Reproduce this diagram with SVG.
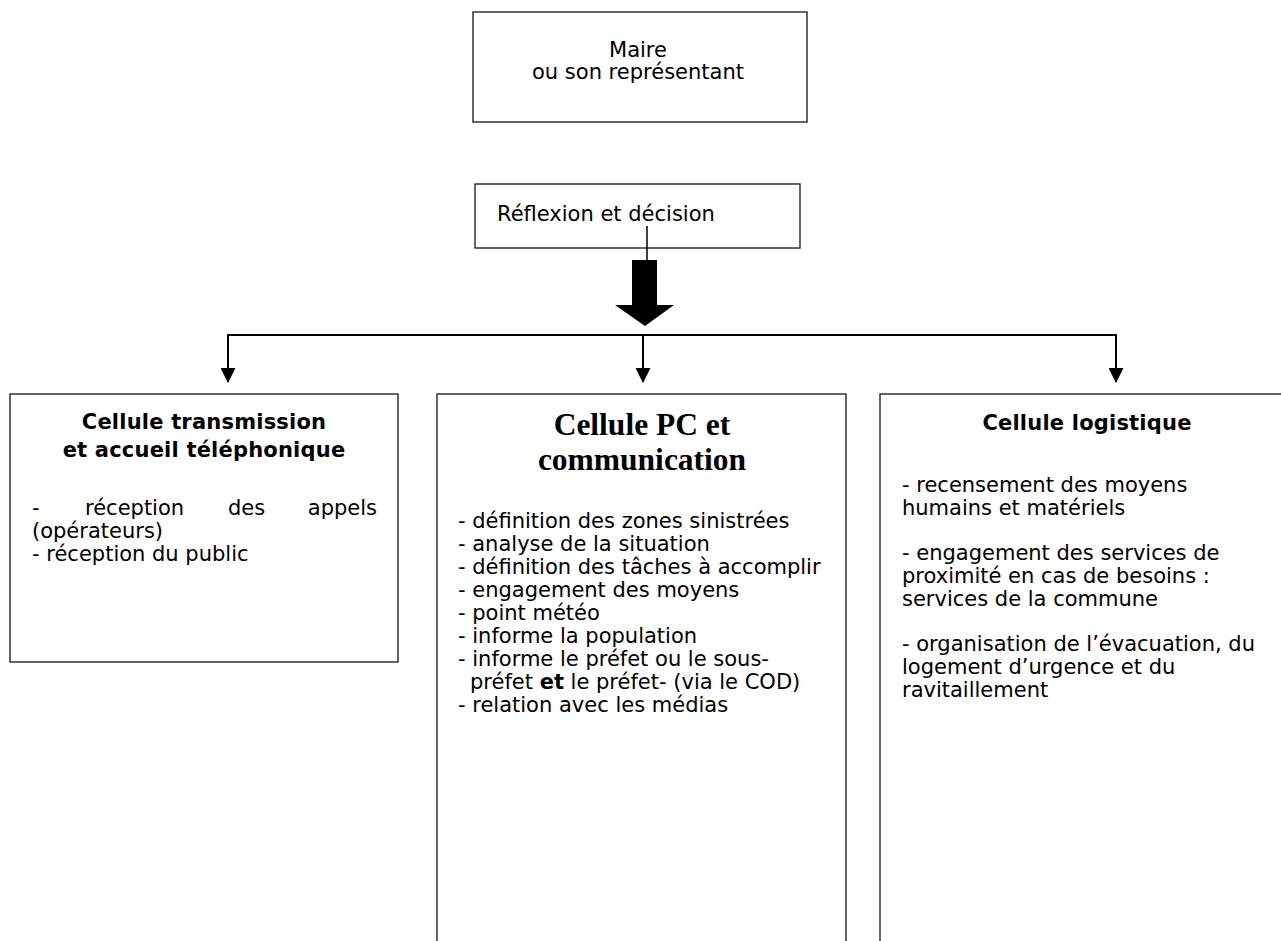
<svg xmlns="http://www.w3.org/2000/svg" width="1281" height="941" viewBox="0 0 1281 941">
<defs>
<style>
.box{fill:#fff;stroke:#333;stroke-width:1.5}
.t{font-family:"DejaVu Sans","Liberation Sans",sans-serif;font-size:21px;fill:#000}
.b{font-weight:bold;font-size:21px;letter-spacing:0.2px}
.serif{font-family:"Liberation Serif","DejaVu Serif",serif;font-size:31.5px;font-weight:bold;fill:#000}
.c{text-anchor:middle}
.ln{fill:none;stroke:#000;stroke-width:2}
</style>
<marker id="ah" viewBox="0 0 15 15" refX="14" refY="7.5" markerWidth="15" markerHeight="15" markerUnits="userSpaceOnUse" orient="auto">
<path d="M0,0 L15,7.5 L0,15 Z" fill="#000"/>
</marker>
</defs>
<rect width="1281" height="941" fill="#fff"/>
<g id="maire">
<rect class="box" x="473" y="12" width="334" height="110"/>
<text class="t c" x="638" y="57">Maire</text>
<text class="t c" x="638" y="79">ou son représentant</text>
</g>
<g id="reflexion">
<rect class="box" x="475" y="184" width="325" height="64"/>
<text class="t" x="497" y="221">Réflexion et décision</text>
</g>
<g id="connectors">
<line class="ln" x1="647" y1="226" x2="647" y2="260" style="stroke-width:1.5"/>
<polygon points="632,260 657,260 657,305 674,305 645,326 615,305 632,305" fill="#000"/>
<line class="ln" x1="227" y1="335" x2="1117" y2="335"/>
<line class="ln" x1="228" y1="334" x2="228" y2="382" marker-end="url(#ah)"/>
<line class="ln" x1="643" y1="335" x2="643" y2="382" marker-end="url(#ah)"/>
<line class="ln" x1="1116" y1="334" x2="1116" y2="382" marker-end="url(#ah)"/>
</g>
<g id="transmission">
<rect class="box" x="10" y="394" width="388" height="268"/>
<text class="t b c" x="204" y="429">Cellule transmission</text>
<text class="t b c" x="204" y="457">et accueil téléphonique</text>
<text class="t" y="515"><tspan x="32">-</tspan><tspan x="85">réception</tspan><tspan x="228">des</tspan><tspan x="377" text-anchor="end">appels</tspan></text>
<text class="t" x="32" y="538">(opérateurs)</text>
<text class="t" x="32" y="561">- réception du public</text>
</g>
<g id="pc">
<rect class="box" x="437" y="394" width="409" height="560"/>
<text class="serif c" x="642" y="435">Cellule PC et</text>
<text class="serif c" x="642" y="470">communication</text>
<text class="t" x="458" y="528">- définition des zones sinistrées</text>
<text class="t" x="458" y="551">- analyse de la situation</text>
<text class="t" x="458" y="574">- définition des tâches à accomplir</text>
<text class="t" x="458" y="597">- engagement des moyens</text>
<text class="t" x="458" y="620">- point météo</text>
<text class="t" x="458" y="643">- informe la population</text>
<text class="t" x="458" y="666">- informe le préfet ou le sous-</text>
<text class="t" x="470" y="689">préfet <tspan style="font-weight:bold">et</tspan> le préfet- (via le COD)</text>
<text class="t" x="458" y="712">- relation avec les médias</text>
</g>
<g id="logistique">
<rect class="box" x="880" y="394" width="420" height="560"/>
<text class="t b c" x="1087" y="430">Cellule logistique</text>
<text class="t" x="902" y="492">- recensement des moyens</text>
<text class="t" x="902" y="515">humains et matériels</text>
<text class="t" x="902" y="560">- engagement des services de</text>
<text class="t" x="902" y="583">proximité en cas de besoins :</text>
<text class="t" x="902" y="606">services de la commune</text>
<text class="t" x="902" y="651">- organisation de l’évacuation, du</text>
<text class="t" x="902" y="674">logement d’urgence et du</text>
<text class="t" x="902" y="697">ravitaillement</text>
</g>
</svg>
